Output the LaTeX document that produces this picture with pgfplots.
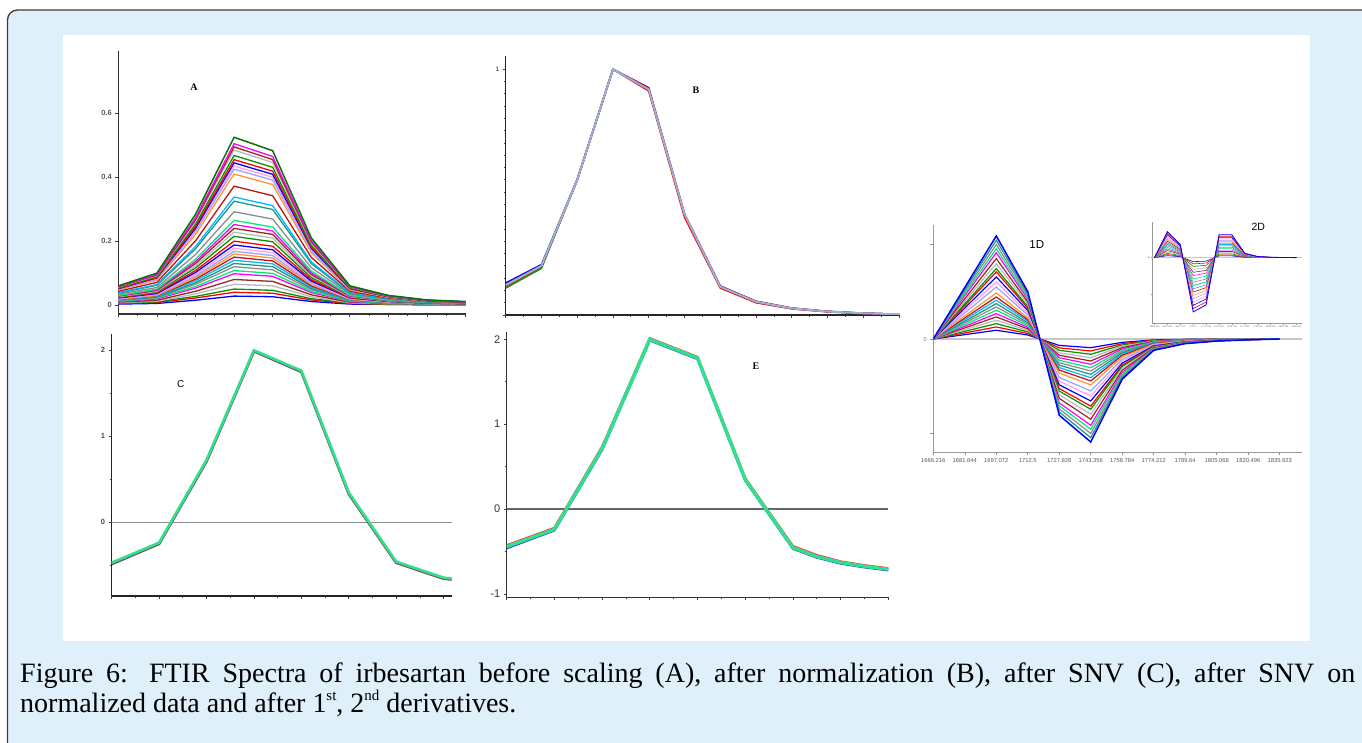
\documentclass[border=0pt]{standalone}
\usepackage{fontspec}
\setmainfont{Liberation Serif}
\setsansfont{Liberation Sans}
\usepackage{pgfplots}
\usepackage{pgfplotstable}
\pgfplotsset{compat=1.18}

\definecolor{bgblue}{RGB}{223,240,251}
\definecolor{bordc}{RGB}{60,60,60}
\definecolor{pc1}{RGB}{0,0,255}
\definecolor{pc2}{RGB}{255,0,0}
\definecolor{pc3}{RGB}{0,150,0}
\definecolor{pc4}{RGB}{185,185,185}
\definecolor{pc5}{RGB}{150,40,40}
\definecolor{pc6}{RGB}{255,0,255}
\definecolor{pc7}{RGB}{0,235,120}
\definecolor{pc8}{RGB}{140,140,140}
\definecolor{pc9}{RGB}{30,150,130}
\definecolor{pc10}{RGB}{0,185,255}
\definecolor{pc11}{RGB}{190,20,20}
\definecolor{pc12}{RGB}{255,150,50}
\definecolor{pc13}{RGB}{160,160,255}
\definecolor{pc14}{RGB}{255,160,240}
\definecolor{sgreen}{RGB}{48,225,140}
\definecolor{steel}{RGB}{155,178,200}
\definecolor{shade}{RGB}{120,80,100}

% Panel A: one row per spectrum (smallest first), 10 points
\pgfplotstableread[header=false]{
0.003 0.005 0.015 0.028 0.026 0.011 0.003 0.002 0.001 0.001
0.005 0.008 0.022 0.040 0.037 0.016 0.005 0.002 0.001 0.001
0.006 0.010 0.027 0.050 0.046 0.020 0.006 0.003 0.002 0.001
0.007 0.012 0.035 0.065 0.060 0.026 0.007 0.004 0.002 0.001
0.009 0.015 0.043 0.080 0.074 0.032 0.009 0.005 0.002 0.002
0.011 0.019 0.053 0.098 0.090 0.039 0.011 0.006 0.003 0.002
0.012 0.021 0.058 0.108 0.099 0.043 0.012 0.006 0.003 0.002
0.014 0.023 0.065 0.120 0.110 0.048 0.014 0.007 0.004 0.002
0.015 0.025 0.070 0.130 0.120 0.052 0.015 0.008 0.004 0.003
0.016 0.027 0.076 0.140 0.129 0.056 0.016 0.008 0.004 0.003
0.017 0.029 0.081 0.150 0.138 0.060 0.017 0.009 0.005 0.003
0.018 0.030 0.086 0.160 0.147 0.064 0.018 0.009 0.005 0.003
0.019 0.032 0.091 0.168 0.155 0.067 0.019 0.010 0.005 0.003
0.020 0.034 0.096 0.178 0.164 0.071 0.020 0.010 0.005 0.004
0.022 0.036 0.102 0.188 0.173 0.075 0.022 0.011 0.006 0.004
0.023 0.038 0.108 0.200 0.184 0.080 0.023 0.012 0.006 0.004
0.025 0.041 0.116 0.215 0.198 0.086 0.025 0.012 0.006 0.004
0.026 0.043 0.123 0.228 0.210 0.091 0.026 0.013 0.007 0.005
0.028 0.046 0.130 0.240 0.221 0.096 0.028 0.014 0.007 0.005
0.029 0.048 0.136 0.252 0.232 0.101 0.029 0.015 0.008 0.005
0.030 0.050 0.143 0.265 0.244 0.106 0.030 0.015 0.008 0.005
0.034 0.055 0.158 0.292 0.269 0.117 0.034 0.017 0.009 0.006
0.037 0.062 0.176 0.325 0.299 0.130 0.037 0.019 0.010 0.007
0.039 0.064 0.183 0.338 0.311 0.135 0.039 0.020 0.010 0.007
0.043 0.071 0.201 0.372 0.342 0.149 0.043 0.022 0.011 0.007
0.047 0.078 0.221 0.410 0.377 0.164 0.047 0.024 0.012 0.008
0.049 0.081 0.230 0.425 0.391 0.170 0.049 0.025 0.013 0.009
0.050 0.083 0.235 0.435 0.400 0.174 0.050 0.025 0.013 0.009
0.051 0.085 0.240 0.445 0.409 0.178 0.051 0.026 0.013 0.009
0.052 0.086 0.246 0.455 0.419 0.182 0.052 0.026 0.014 0.009
0.054 0.089 0.253 0.468 0.431 0.187 0.054 0.027 0.014 0.009
0.056 0.092 0.262 0.485 0.446 0.194 0.056 0.028 0.015 0.010
0.057 0.094 0.267 0.495 0.455 0.198 0.057 0.029 0.015 0.010
0.058 0.096 0.273 0.505 0.465 0.202 0.058 0.029 0.015 0.010
0.060 0.100 0.284 0.525 0.483 0.210 0.060 0.030 0.016 0.011
}\tAraw
\pgfplotstabletranspose\tA{\tAraw}

% Panel 1D: one row per spectrum, 12 points
\pgfplotstableread[header=false]{
0 0.046 0.092 0.042 -0.068 -0.092 -0.036 -0.010 -0.004 -0.002 -0.001 0
0 0.064 0.127 0.058 -0.094 -0.127 -0.050 -0.014 -0.006 -0.003 -0.001 0
0 0.081 0.162 0.075 -0.120 -0.162 -0.063 -0.018 -0.007 -0.003 -0.001 0
0 0.099 0.198 0.091 -0.147 -0.198 -0.077 -0.022 -0.009 -0.004 -0.002 0
0 0.117 0.233 0.107 -0.172 -0.233 -0.091 -0.026 -0.010 -0.005 -0.002 0
0 0.134 0.268 0.123 -0.198 -0.268 -0.105 -0.029 -0.012 -0.005 -0.002 0
0 0.152 0.304 0.140 -0.225 -0.304 -0.119 -0.033 -0.014 -0.006 -0.002 0
0 0.170 0.339 0.156 -0.251 -0.339 -0.132 -0.037 -0.015 -0.007 -0.003 0
0 0.187 0.374 0.172 -0.277 -0.374 -0.146 -0.041 -0.017 -0.007 -0.003 0
0 0.205 0.410 0.189 -0.303 -0.410 -0.160 -0.045 -0.018 -0.008 -0.003 0
0 0.222 0.444 0.204 -0.329 -0.444 -0.173 -0.049 -0.020 -0.009 -0.004 0
0 0.244 0.487 0.224 -0.360 -0.487 -0.190 -0.054 -0.022 -0.010 -0.004 0
0 0.275 0.550 0.253 -0.407 -0.550 -0.215 -0.061 -0.025 -0.011 -0.004 0
0 0.302 0.603 0.277 -0.446 -0.603 -0.235 -0.066 -0.027 -0.012 -0.005 0
0 0.328 0.656 0.302 -0.485 -0.656 -0.256 -0.072 -0.030 -0.013 -0.005 0
0 0.355 0.710 0.327 -0.525 -0.710 -0.277 -0.078 -0.032 -0.014 -0.006 0
0 0.372 0.744 0.342 -0.551 -0.744 -0.290 -0.082 -0.033 -0.015 -0.006 0
0 0.399 0.797 0.367 -0.590 -0.797 -0.311 -0.088 -0.036 -0.016 -0.006 0
0 0.425 0.850 0.391 -0.629 -0.850 -0.332 -0.094 -0.038 -0.017 -0.007 0
0 0.457 0.913 0.420 -0.676 -0.913 -0.356 -0.100 -0.041 -0.018 -0.007 0
0 0.478 0.955 0.439 -0.707 -0.955 -0.372 -0.105 -0.043 -0.019 -0.008 0
0 0.500 1.000 0.460 -0.740 -1.000 -0.390 -0.110 -0.045 -0.020 -0.008 0
0 0.523 1.045 0.481 -0.773 -1.045 -0.408 -0.115 -0.047 -0.021 -0.008 0
0 0.545 1.090 0.501 -0.807 -1.090 -0.425 -0.120 -0.049 -0.022 -0.009 0
}\tDraw
\pgfplotstabletranspose\tD{\tDraw}

% Panel 2D inset: one row per spectrum, 12 points
\pgfplotstableread[header=false]{
0 0.053 0.026 -0.110 -0.096 0.046 0.046 0.009 0.002 0.001 0.000 0
0 0.082 0.041 -0.170 -0.148 0.071 0.071 0.014 0.003 0.001 0.001 0
0 0.115 0.058 -0.240 -0.209 0.101 0.101 0.019 0.005 0.002 0.001 0
0 0.154 0.077 -0.320 -0.278 0.134 0.134 0.026 0.006 0.002 0.001 0
0 0.192 0.096 -0.400 -0.348 0.168 0.168 0.032 0.008 0.003 0.001 0
0 0.235 0.118 -0.490 -0.426 0.206 0.206 0.039 0.010 0.003 0.001 0
0 0.278 0.139 -0.580 -0.505 0.244 0.244 0.046 0.012 0.004 0.002 0
0 0.322 0.161 -0.670 -0.583 0.281 0.281 0.054 0.013 0.005 0.002 0
0 0.365 0.182 -0.760 -0.661 0.319 0.319 0.061 0.015 0.005 0.002 0
0 0.408 0.204 -0.850 -0.740 0.357 0.357 0.068 0.017 0.006 0.003 0
0 0.451 0.226 -0.940 -0.818 0.395 0.395 0.075 0.019 0.007 0.003 0
0 0.494 0.247 -1.030 -0.896 0.433 0.433 0.082 0.021 0.007 0.003 0
0 0.538 0.269 -1.120 -0.974 0.470 0.470 0.090 0.022 0.008 0.003 0
0 0.581 0.290 -1.210 -1.053 0.508 0.508 0.097 0.024 0.008 0.004 0
0 0.624 0.312 -1.300 -1.131 0.546 0.546 0.104 0.026 0.009 0.004 0
0 0.667 0.334 -1.390 -1.209 0.584 0.584 0.111 0.028 0.010 0.004 0
0 0.710 0.355 -1.480 -1.288 0.622 0.622 0.118 0.030 0.010 0.004 0
}\tEraw
\pgfplotstabletranspose\tDD{\tEraw}

\pgfplotsset{
  pal/.style={cycle list={{pc1},{pc2},{pc3},{pc4},{pc5},{pc6},{pc7},{pc8},{pc9},{pc10},{pc11},{pc12},{pc13},{pc14}}},
  panel/.style={scale only axis, axis lines*=left, tick align=outside,
    major tick length=3pt, minor tick length=2pt},
}
\newcommand{\sups}[1]{\raisebox{0.45em}{\fontsize{15}{15}\selectfont #1}}

\begin{document}
\begin{tikzpicture}
\useasboundingbox (0pt,0pt) rectangle (1362pt,743pt);
\clip (0pt,0pt) rectangle (1362pt,743pt);
\fill[white] (0pt,0pt) rectangle (1362pt,743pt);
\draw[fill=bgblue, draw=bordc, line width=1.3pt, rounded corners=10pt] (7.5pt,-30pt) rectangle (1400pt,733pt);
\fill[white] (63pt,102pt) rectangle (1310pt,708pt);

% ---------------- Panel A ----------------
\begin{axis}[panel, pal, at={(118.3pt,429pt)}, anchor=south west, width=347.4pt, height=263.3pt,
  xmin=0, xmax=9, ymin=-0.028, ymax=0.796,
  axis line style={draw=black!80, line width=1.3pt},
  xtick={0,...,9}, xticklabels={}, minor xtick={0.5,1.5,...,8.5},
  ytick={0,0.2,0.4,0.6}, yticklabels={0,0.2,0.4,0.6},
  tick style={black!75, line width=0.8pt},
  yticklabel style={font=\sffamily\bfseries\fontsize{7.5}{7.5}\selectfont, text=black!65},
]
\pgfplotsinvokeforeach{1,...,34}{\addplot+[no marks, line width=1.3pt] table[x index=0, y index=#1]{\tA};}
\addplot[no marks, line width=1.5pt, color=pc3!80!black] table[x index=0, y index=35]{\tA};
\end{axis}
\node[font=\bfseries\fontsize{10}{10}\selectfont] at (194pt,655.7pt) {A};

% ---------------- Panel B ----------------
\begin{axis}[panel, at={(505.7pt,428pt)}, anchor=south west, width=393.3pt, height=259pt,
  xmin=0, xmax=11, ymin=0, ymax=1.054,
  axis line style={draw=black!85, line width=1.3pt},
  xtick={0,...,11}, xticklabels={}, minor xtick={0.5,1.5,...,10.5},
  ytick={0,1}, yticklabels={,1}, minor ytick={0.05,0.1,...,0.96},
  tick style={black!75, line width=0.7pt},
  yticklabel style={font=\sffamily\fontsize{6.5}{6.5}\selectfont, text=purple!60!black},
]
\addplot[no marks, line width=1.6pt, color=pc3] coordinates {(0,0.110)(1,0.190)(2,0.550)(3,1.000)(4,0.915)(5,0.405)(6,0.112)(7,0.052)(8,0.026)(9,0.014)(10,0.007)(11,0.003)};
\addplot[no marks, line width=1.6pt, color=pc1] coordinates {(0,0.130)(1,0.205)(2,0.552)(3,1.000)(4,0.920)(5,0.410)(6,0.117)(7,0.055)(8,0.028)(9,0.014)(10,0.007)(11,0.003)};
\addplot[no marks, line width=1.6pt, color=pc2] coordinates {(0,0.118)(1,0.197)(2,0.548)(3,1.000)(4,0.912)(5,0.398)(6,0.110)(7,0.050)(8,0.025)(9,0.013)(10,0.006)(11,0.003)};
\addplot[no marks, line width=1.6pt, color=violet] coordinates {(0,0.125)(1,0.200)(2,0.550)(3,1.000)(4,0.925)(5,0.412)(6,0.118)(7,0.056)(8,0.028)(9,0.015)(10,0.007)(11,0.003)};
\addplot[no marks, line width=2.0pt, color=steel] coordinates {(0,0.122)(1,0.200)(2,0.550)(3,1.000)(4,0.918)(5,0.410)(6,0.115)(7,0.054)(8,0.027)(9,0.014)(10,0.007)(11,0.003)};
\end{axis}
\node[font=\bfseries\fontsize{10}{10}\selectfont] at (696pt,652.3pt) {B};

% ---------------- Panel C ----------------
\begin{axis}[panel, at={(111.7pt,147pt)}, anchor=south west, width=340pt, height=262pt,
  xmin=0, xmax=7.17, ymin=-0.857, ymax=2.19,
  axis line style={draw=black!85, line width=1.3pt},
  xtick={0,...,7}, xticklabels={}, minor xtick={0.5,1.5,...,6.5},
  ytick={1,2}, yticklabels={1,2}, minor ytick={-0.5,0.5,1.5},
  extra y ticks={0}, extra y tick labels={0},
  extra y tick style={grid=major, major grid style={draw=black!45, line width=0.8pt}},
  tick style={black!75, line width=0.7pt},
  yticklabel style={font=\sffamily\bfseries\fontsize{7.5}{7.5}\selectfont, text=black!70},
]
\addplot[no marks, line width=2.8pt, color=shade] coordinates {(0,-0.485)(1,-0.25)(2,0.71)(3,1.99)(4,1.75)(5,0.33)(6,-0.47)(7,-0.655)(7.17,-0.665)};
\addplot[no marks, line width=2.6pt, color=sgreen] coordinates {(0,-0.47)(1,-0.237)(2,0.725)(3,2.0)(4,1.763)(5,0.345)(6,-0.458)(7,-0.644)(7.17,-0.655)};
\end{axis}
\node[font=\sffamily\fontsize{10}{10}\selectfont] at (180.7pt,359pt) {C};

% ---------------- Panel E ----------------
\begin{axis}[panel, at={(506.7pt,145.7pt)}, anchor=south west, width=381.6pt, height=265.6pt,
  xmin=0, xmax=8, ymin=-1.04, ymax=2.09,
  axis line style={draw=black!80, line width=1.4pt},
  xtick={0,...,8}, xticklabels={}, minor xtick={0.5,1.5,...,7.5},
  ytick={-1,1,2}, yticklabels={-1,1,2}, minor ytick={-0.5,0.5,1.5},
  extra y ticks={0}, extra y tick labels={0},
  extra y tick style={grid=major, major grid style={draw=black!60, line width=1.1pt}},
  tick style={black!75, line width=0.8pt},
  yticklabel style={font=\sffamily\fontsize{11}{11}\selectfont, text=black!80},
]
\addplot[no marks, line width=2.6pt, color=pc2!80] coordinates {(0,-0.43)(1,-0.225)(2,0.73)(3,2.01)(4,1.79)(5,0.36)(6,-0.44)(6.5,-0.545)(7,-0.62)(7.5,-0.665)(8,-0.70)};
\addplot[no marks, line width=2.6pt, color=pc1!80] coordinates {(0,-0.46)(1,-0.25)(2,0.70)(3,1.99)(4,1.77)(5,0.34)(6,-0.465)(6.5,-0.57)(7,-0.64)(7.5,-0.685)(8,-0.72)};
\addplot[no marks, line width=3.4pt, color=sgreen] coordinates {(0,-0.443)(1,-0.239)(2,0.714)(3,2.0)(4,1.78)(5,0.35)(6,-0.455)(6.5,-0.56)(7,-0.63)(7.5,-0.675)(8,-0.71)};
\end{axis}
\node[font=\bfseries\fontsize{10}{10}\selectfont] at (756pt,376.3pt) {E};

% ---------------- Panel 1D ----------------
\begin{axis}[panel, pal, at={(933.3pt,290.7pt)}, anchor=south west, width=368.4pt, height=227.3pt,
  xmin=0, xmax=11.7, ymin=-1.199, ymax=1.206,
  axis line style={draw=black!40, line width=0.9pt},
  xtick={0,...,11},
  xticklabels={1666.216,1681.644,1697.072,1712.5,1727.928,1743.356,1758.784,1774.212,1789.64,1805.068,1820.496,1835.923},
  ytick={-1,1}, yticklabels={,},
  extra y ticks={0}, extra y tick labels={0},
  extra y tick style={grid=major, major grid style={draw=black!22, line width=1.6pt}},
  tick style={black!45, line width=0.6pt},
  xticklabel style={font=\sffamily\fontsize{5.8}{5.8}\selectfont, text=black!65},
  yticklabel style={font=\sffamily\fontsize{6}{6}\selectfont, text=black!50},
]
\pgfplotsinvokeforeach{1,...,23}{\addplot+[no marks, line width=1.2pt] table[x index=0, y index=#1]{\tD};}
\addplot[no marks, line width=1.5pt, color=pc1] table[x index=0, y index=24]{\tD};
\end{axis}
\node[font=\sffamily\fontsize{11.5}{11.5}\selectfont] at (1036.7pt,498pt) {1D};

% ---------------- Panel 2D inset ----------------
\begin{axis}[panel, pal, at={(1152.3pt,419.7pt)}, anchor=south west, width=149.4pt, height=101.6pt,
  xmin=-0.17, xmax=11.41, ymin=-1.79, ymax=0.98,
  axis line style={draw=black!40, line width=0.7pt},
  xtick={0,...,11},
  xticklabels={1666.216,1681.644,1697.072,1712.5,1727.928,1743.356,1758.784,1774.212,1789.64,1805.068,1820.496,1835.923},
  ytick={-1}, yticklabels={},
  extra y ticks={0}, extra y tick labels={0},
  extra y tick style={grid=major, major grid style={draw=black!22, line width=1pt}},
  major tick length=1.5pt,
  tick style={black!40, line width=0.4pt},
  xticklabel style={font=\sffamily\fontsize{2.4}{2.4}\selectfont, text=black!55, inner sep=1pt},
  yticklabel style={font=\sffamily\fontsize{3}{3}\selectfont, text=black!55, inner sep=1pt},
]
\pgfplotsinvokeforeach{1,...,16}{\addplot+[no marks, line width=0.6pt] table[x index=0, y index=#1]{\tDD};}
\addplot[no marks, line width=0.8pt, color=pc1] table[x index=0, y index=17]{\tDD};
\end{axis}
\node[font=\sffamily\fontsize{10.5}{10.5}\selectfont] at (1258.3pt,515.7pt) {2D};

% ---------------- Caption ----------------
\node[anchor=base west, inner sep=0pt, font=\fontsize{28}{30}\selectfont] at (20pt,60pt)
  {\makebox[1335pt][s]{Figure 6: FTIR Spectra of irbesartan before scaling (A), after normalization (B), after SNV (C), after SNV on}};
\node[anchor=base west, inner sep=0pt, font=\fontsize{28}{30}\selectfont] at (20pt,30pt)
  {normalized data and after 1\sups{st}, 2\sups{nd} derivatives.};
\end{tikzpicture}
\end{document}
